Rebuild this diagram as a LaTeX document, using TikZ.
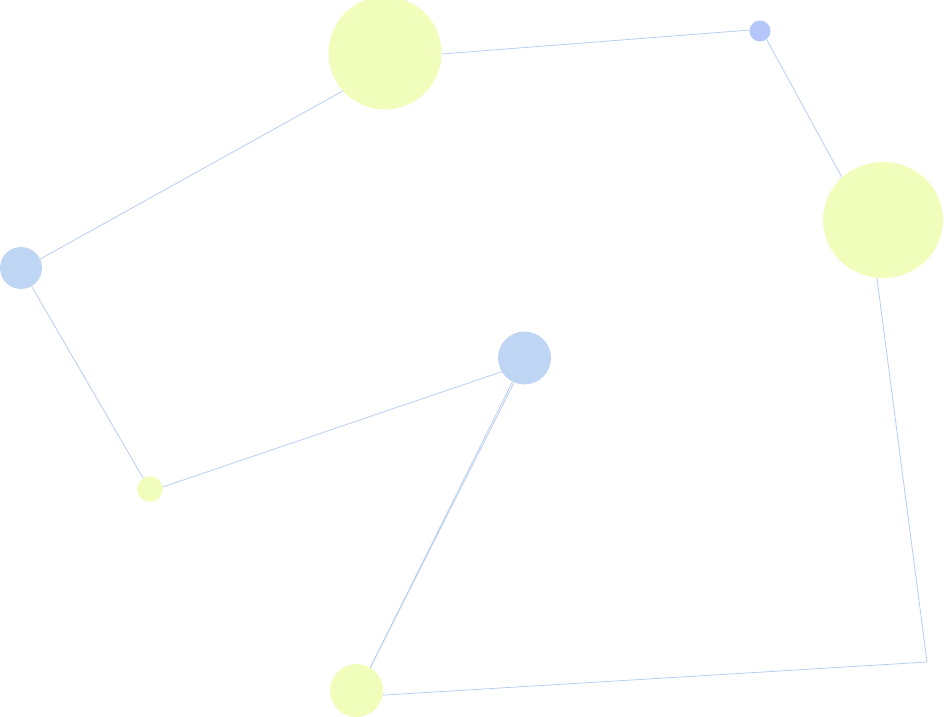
\documentclass[tikz,border=0pt]{standalone}
\usetikzlibrary{shapes.geometric}
\definecolor{yel}{RGB}{240,253,187}
\definecolor{blu}{RGB}{191,213,244}
\definecolor{bludark}{RGB}{180,198,250}
\definecolor{edgec}{RGB}{184,206,240}
\tikzset{
  dot/.style={circle, inner sep=0pt, draw=none},
  link/.style={draw=edgec, line width=0.8pt},
}
\begin{document}
\begin{tikzpicture}[x=1pt,y=1pt]
\useasboundingbox (0,0) rectangle (944,716);
\coordinate (K) at (927,54);
\node[dot, fill=yel, minimum size=113pt] (A) at (385,663) {};
\node[dot, fill=bludark, minimum size=21pt] (B) at (760,685) {};
\node[ellipse, inner sep=0pt, draw=none, fill=yel, minimum width=120pt, minimum height=116pt] (C) at (883,496) {};
\node[dot, fill=blu, minimum size=42pt] (D) at (21,448) {};
\node[dot, fill=blu, minimum size=53pt] (E) at (524.5,358) {};
\node[dot, fill=yel, minimum size=25.5pt] (F) at (150,227) {};
\node[dot, fill=yel, minimum size=53pt] (G) at (356.5,25.5) {};
\draw[link] (A.-1) -- (B.175);
\draw[link] (B.-52) -- (C.134);
\draw[link] (C.-96) -- (K) -- (G.-10);
\draw[link] (G.59) -- (E.-117.5);
\draw[link] (G.59) -- (E.-113.6);
\draw[link] (E.-149) -- (F.9);
\draw[link] (F.122) -- (D.-60);
\draw[link] (D.25) -- (A.-138.6);
\end{tikzpicture}
\end{document}
